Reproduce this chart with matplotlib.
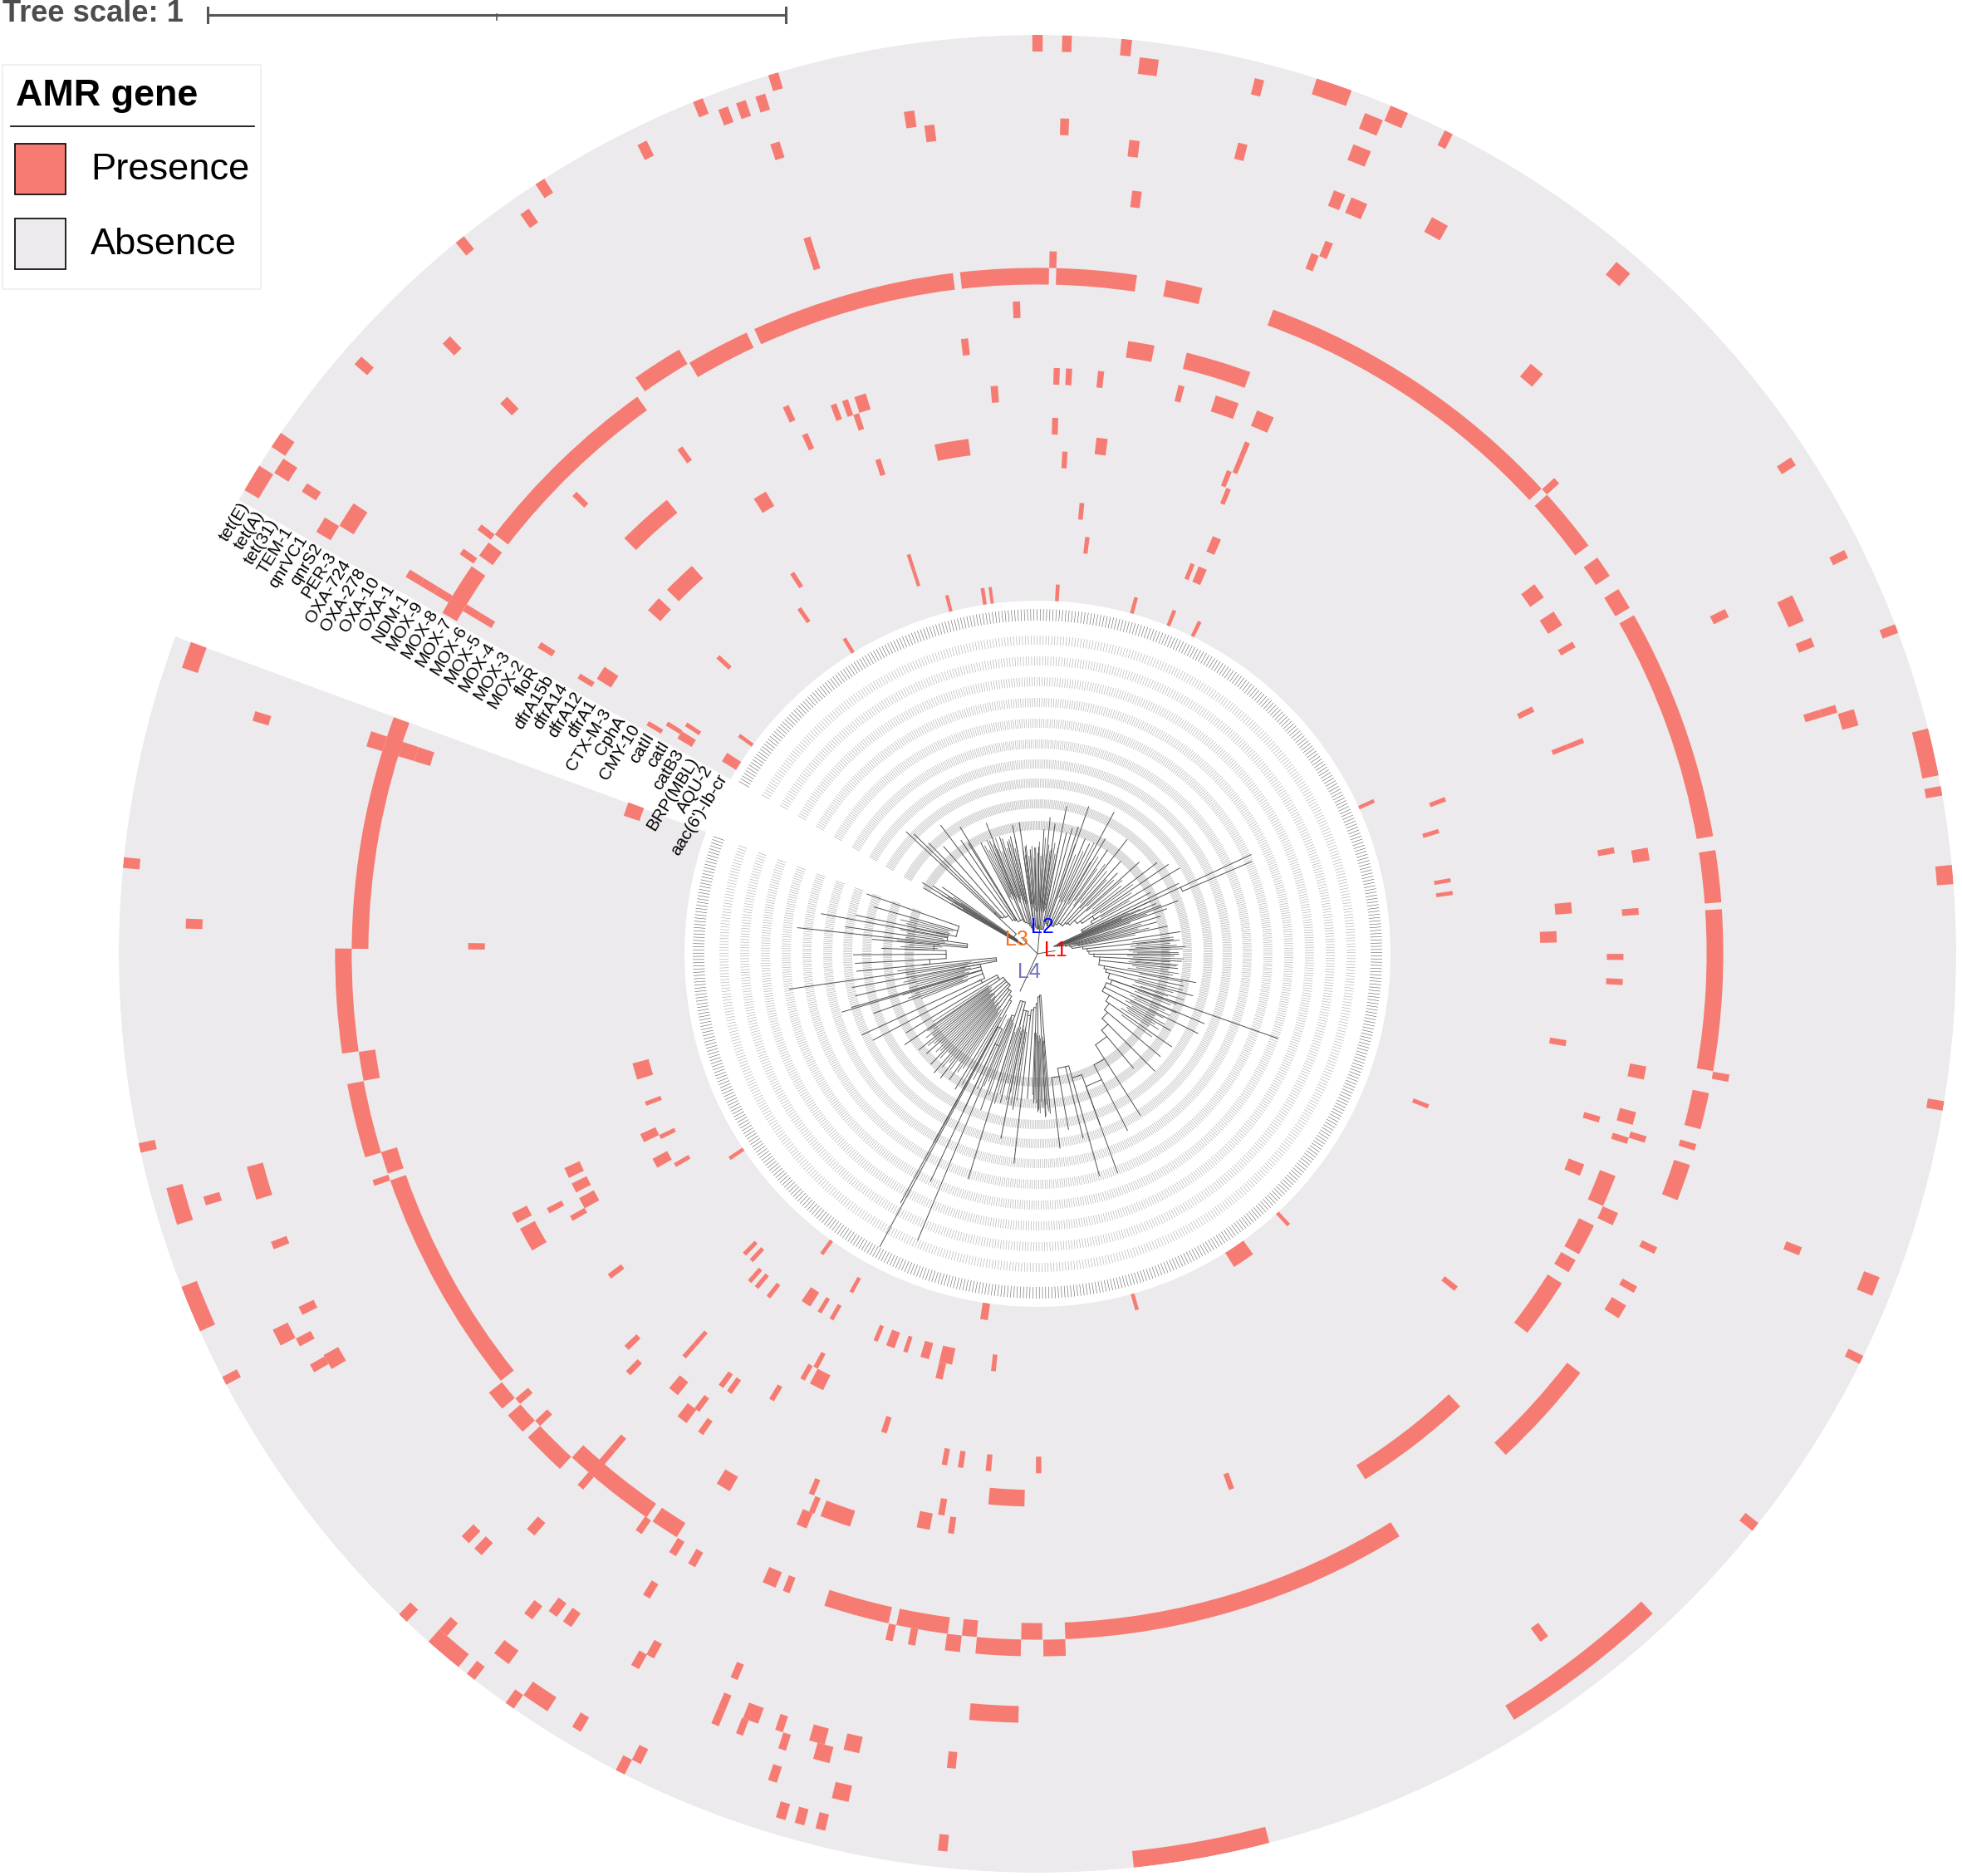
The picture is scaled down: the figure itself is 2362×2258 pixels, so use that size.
# -*- coding: utf-8 -*-
import matplotlib
matplotlib.use("Agg")
import matplotlib.pyplot as plt
import numpy as np
from matplotlib.patches import Rectangle

plt.rcParams["font.family"] = ["Liberation Sans", "DejaVu Sans"]

# global constants
W, H = 2362, 2258
CX, CY = 1249, 1148
R_OUT, R_IN = 1106, 425
PRESENCE_COLOR = "#F67C73"
ABSENCE_COLOR = "#ECEAEC"
GAP_LOW, GAP_HIGH = 150.4, 159.8  # label wedge, degrees

GENES = ["tet(E)", "tet(A)", "tet(31)", "TEM-1", "qnrVC1", "qnrS2", "PER-3",
         "OXA-724", "OXA-278", "OXA-10", "OXA-1", "NDM-1", "MOX-9", "MOX-8",
         "MOX-7", "MOX-6", "MOX-5", "MOX-4", "MOX-3", "MOX-2", "floR",
         "dfrA15b", "dfrA14", "dfrA12", "dfrA1", "CTX-M-3", "CphA", "CMY-10",
         "catII", "catI", "catB3", "BRP(MBL)", "AQU-2", "aac(6')-Ib-cr"]

# presence blocks per gene: (centre angle, angular width), degrees
tet_E = [(90.0, .65), (88.15, .6), (84.42, .67), (71.15, 2.3), (106.72, .65), (111.7, .65),
         (122.8, .65), (128.97, .65), (145.98, 1.05), (148.8, 1.78), (66.8, 1.17), (63.4, .55),
         (20.73, .57), (12.7, 3.0), (10.22, .6), (4.95, 1.2), (-9.53, .6), (-26.23, .55),
         (-38.6, .62), (-79.68, 8.6), (174.3, .67), (192.2, .6), (202.76, 3.0), (207.7, .55),
         (226.3, .67), (229.7, 2.45), (231.9, .62), (234.93, .62), (242.98, .62)]
tet_A = [(82.88, 1.22), (75.75, .61), (107.9, .65), (109.2, .65), (110.4, .65), (116, .65),
         (124.65, .65), (138.88, .65), (147.25, 1.07), (160.65, 1.73), (68.1, 1.22), (49.5, 1.15),
         (33.08, .6), (26.3, .56), (-21.64, 1.27), (-52.55, 11.1), (196.27, 2.42), (228.8, .63),
         (236.18, 1.83), (239.26, .63), (243.6, .63), (253.46, .63), (254.7, .63), (256.07, .63),
         (263.96, .61)]
tet_31 = [(232.74, 1.17)]
TEM_1 = [(147.54, .65), (68.05, 1.24), (196.53, .6), (252.24, .61), (256.87, 1.13)]
qnrVC1 = [(98.67, .7), (107.95, .65), (133.93, .7), (177.97, .67), (16.11, 1.13), (-53.5, .64),
          (206.77, 1.18)]
qnrS2 = [(97.44, .69), (88.13, .6), (75.77, .66), (149.1, 1.15), (61.2, 1.24), (24.44, 1.92),
         (21.9, .66), (17.05, .55), (207.72, .6), (209.75, .6), (232.45, .7), (247.3, .55),
         (249.1, .5), (252.2, .55), (255, 1.15)]
PER_3 = [(83.19, .73), (68.35, .84), (147.56, 1.85), (163.12, .7), (196.28, 2.39), (200.87, .56),
         (66.85, 1.2), (17.05, .55), (-21.3, .6), (205.85, .62), (209.9, 1.12), (225.67, .7),
         (226.9, .7), (233.7, .7), (234.94, .7), (240.56, .62), (247.3, .55), (249.49, 1.12),
         (251.6, .56), (254.37, 1.12), (256.86, 1.12), (263.96, .62)]
OXA_724 = [(241.13, .62)]
OXA_278 = [(247.28, .55)]
OXA_10 = [(82.56, .72), (133.96, .72), (67.7, .6), (49.5, 1.2), (26.3, .66), (228.77, .75),
          (266.74, 3.67)]
OXA_1 = [(107.85, .55), (68.34, .6), (238.68, .6)]
NDM_1 = [(107.85, .55), (148.86, .66)]
MOX_9 = [(148.86, .66)]
MOX_8 = [(88.72, .59), (122.8, 4.23), (142.6, .55), (145.06, .55), (148.86, .66), (162.18, 1.29),
         (183.87, 8.6), (193.77, 6.15), (199.04, .5), (42.33, .6), (-10.2, .6), (271.4, 1.83),
         (266.78, 3.7), (263.04, 1.24), (259.67, .6), (257.8, .6), (219.5, 1.7), (221.97, 1.8),
         (225.33, 3.66), (229.4, .6), (235.4, .6), (238.7, .65), (240.5, .65)]
MOX_7 = [(85.04, 6.78), (92.76, 7.45), (105.74, 17.3), (117.8, 5.4), (134, 16.6), (143.83, 1.34),
         (147.9, 4.6), (77.63, 3.09), (56.29, 27.2), (39.27, 5.48), (34.36, 1.84), (31.2, 1.84),
         (19.73, 19.7), (6.5, 4.39), (-3.06, 13.58), (-13.27, 3.09), (-16.39, .55), (-19.49, 3.12),
         (-25.64, .6), (-29.32, .6), (-31.47, 1.24), (-42.3, 9.27), (-72.9, 29.53), (169.7, 19.76),
         (189.45, 2.45), (197.75, 1.88), (208.9, 19.2), (220.72, .6), (223.2, .6), (229.4, .6),
         (231.25, 8.0), (237.06, 2.4), (269.52, 1.77), (264.29, 1.24), (260.3, 4.36),
         (254.67, 5.55), (248.5, .6), (246.96, 1.17)]
MOX_6 = [(148.86, .66), (162.18, 1.29), (229.4, .6)]
MOX_5 = [(91.85, .64), (135.2, .53), (148.86, .66), (162.18, 1.29), (229.4, .6)]
MOX_4 = [(-16.98, .6), (-24.66, 1.2)]
MOX_3 = [(125.27, .56), (96.77, .67), (80.34, 2.46), (72.97, 6.15), (35.88, 1.49), (32.8, 1.49),
         (29.96, .6), (9.27, 1.19), (-11.1, 1.23), (-15.43, 1.22), (-17.57, .6), (-22.53, 3.0),
         (-27.52, 3.0), (-30.3, 1.3), (-34.93, 5.58), (-52.5, 11.09), (247.6, 1.0), (239.5, 1.4)]
MOX_2 = [(114.7, .6), (4.03, .65), (250.38, 2.98), (248, .55)]
floR = [(132.04, 5.6), (148.2, .65), (88.11, .6), (86.9, .6), (83.76, .6), (75.77, .6),
        (71.1, 2.36), (67.1, 1.77), (110.38, .6), (109.18, .6), (107.63, 1.18), (21.34, .5),
        (10.17, .6), (-0.31, .6), (-2.76, .6), (-16.43, .6), (-21.66, 1.18), (206.8, 1.1),
        (209.2, 2.44), (225.69, .6), (232.65, 1.1), (234.9, .6), (247.3, .55), (258.75, 1.3),
        (261.5, .6)]
dfrA15b = [(179.24, .65), (94.36, .73), (108.58, .6), (114.13, .6), (21.34, .5), (223.79, .6),
           (230.25, 1.13), (233.25, .6), (260.27, .65), (-70.07, .55)]
dfrA14 = [(207.7, .6), (67.67, .55), (26.27, .6), (266.77, 3.75)]
dfrA12 = [(148.8, .6), (121.2, 1.5), (88.1, .65), (67.67, .55), (209.58, .6), (4.92, 1.2),
          (-9.6, .65), (-38.66, .6), (217, .6), (234.9, .6), (233.8, .6), (228.76, .5)]
dfrA1 = [(133.6, 3.8), (137.7, 1.78), (147.25, 1.56), (204.96, 1.2), (206.8, 1.1), (208.7, 1.3),
         (107.9, .6), (99.54, 3.78), (82.85, 1.25), (68.32, .55), (1.87, 1.25), (270.13, .6),
         (264.57, .6), (261.48, .6), (259.67, .6), (239.2, .6), (228.76, .5)]
CTX_M_3 = [(86.87, .6), (67.65, .55), (252.21, .65)]
CphA = [(241.1, .6), (242.96, 1.75)]
CMY_10 = [(241.8, .6)]
catII = [(149.4, .6), (122.8, .6), (66.66, 1.13), (84.36, .6)]
catI = [(160.62, 1.86), (148.14, .6), (137.1, .6), (205, 1.17), (208.7, 1.33), (20.75, .6),
        (256.95, .95), (228.7, .6), (229.9, .6), (231.9, .6)]
catB3 = [(196.3, 2.3), (200.94, .6), (205.9, .6), (210.24, .6), (146.86, .6), (148.54, 1.16),
         (124.6, .6), (107.9, .5), (83.17, .6), (68.3, .6), (66.8, 1.2), (17, .6), (10.11, .55),
         (8.34, .55), (-21.33, .6), (263.97, .65), (236.5, 1.4), (238.7, .6), (240.6, .6),
         (247.3, .6), (249.46, 1.2), (251.64, .6), (254.4, 1.2), (257.35, 1.8), (225.7, .6),
         (227, .6)]
BRP_MBL = [(107.9, .5)]
AQU_2 = [(241.18, .6)]
aac6 = [(143.8, .6), (147.85, 1.54), (121.5, .6), (104.2, .55), (98.56, .6), (97.36, .5),
        (86.85, .6), (74.52, .6), (68.25, .6), (63.96, .6), (24.44, .6), (261.68, 1.2),
        (-74.38, .6), (-56.1, 3.55), (-47.2, .6), (234.3, .6), (213.6, .6)]

PRESENCE = [tet_E, tet_A, tet_31, TEM_1, qnrVC1, qnrS2, PER_3, OXA_724, OXA_278, OXA_10, OXA_1,
            NDM_1, MOX_9, MOX_8, MOX_7, MOX_6, MOX_5, MOX_4, MOX_3, MOX_2, floR, dfrA15b, dfrA14,
            dfrA12, dfrA1, CTX_M_3, CphA, CMY_10, catII, catI, catB3, BRP_MBL, AQU_2, aac6]

# ghost tip-label tick rings: inner radius, outer radius, colour
TICK_R0 = [401, 372, 347, 322, 297, 272, 247, 223, 200, 175, 149]
TICK_R1 = [415, 383, 358, 333, 308, 283, 258, 234, 211, 186, 160]
TICK_COLORS = ["#5c5c5c"] + ["#a6a6a6"] * 10

# tree branches, one list each per clade: angle, tip radius, start radius
L1_angle = [25, 23, 21.5, 20.7, 19.2, 17, 14.9, 12, 8.8, 6, 2.8, 0, -3, -6, -10.3, -12.5, -15.1,
            -19.4, -22.7, -26.4, -30, -34.7, -39.9, -45, -50, -57.5, -63, -69.9, -74.4, -76.1,
            -80, -83.4]
L1_tip = [150, 155, 160, 181, 165, 155, 149, 160, 174, 165, 178, 170, 174, 170, 194, 180, 194,
          307, 218, 216, 185, 197, 193, 200, 180, 231, 239, 281, 278, 229, 215, 236]
L1_base = [22, 25, 25, 28, 30, 35, 40, 42, 55, 60, 62, 68, 75, 75, 82, 85, 90, 190, 95, 90, 100,
           105, 110, 120, 130, 150, 170, 220, 155, 140, 150, 212]
L2_angle = [96.6, 94, 91.5, 89.3, 87, 84.7, 82.3, 78.8, 76.5, 74.5, 72.2, 70.8, 67.5, 64.7, 61.6,
            59.5, 56, 51.9, 48, 45.3, 42, 37.3, 34.3, 31.1, 28.5, 26.5, 24.9, 23.3]
L2_tip = [130, 126, 128, 129, 150, 165, 158, 181, 150, 157, 161, 188, 150, 147, 194, 161, 151,
          175, 150, 137, 165, 181, 191, 200, 155, 190, 284, 281]
L2_base = [40, 35, 32, 30, 35, 32, 30, 30, 45, 40, 38, 36, 42, 40, 38, 42, 45, 45, 50, 52, 60,
           65, 80, 85, 75, 60, 190, 200]
L3_angle = [148.3, 150, 147, 145, 137.1, 135.9, 134.5, 131.2, 127, 124, 122, 121.4, 117, 113,
            111.4, 108, 105, 103, 101, 97.9]
L3_tip = [163, 158, 150, 140, 216, 207, 187, 172, 194, 165, 157, 179, 150, 148, 169, 148, 140,
          145, 158, 160]
L3_base = [25, 22, 30, 35, 70, 72, 62, 60, 58, 50, 48, 50, 45, 45, 42, 40, 38, 35, 32, 30]
L4_angle = [274.6, 272.8, 270, 268.5, 266, 263.6, 261, 258.8, 256, 252.9, 250, 247.3, 244.8,
            241.7, 241.2, 238.7, 235, 232, 229, 226, 222, 219, 214.4, 211, 207.7, 204.8, 200,
            196.6, 196.1, 193, 190.3, 188.1, 185.5, 183, 180.3, 178, 175, 173.8, 172, 169.5,
            168, 164, 160.7]
L4_tip = [193, 197, 190, 180, 175, 254, 190, 227, 185, 284, 200, 374, 303, 401, 342, 191, 185,
          190, 190, 185, 180, 184, 194, 185, 224, 233, 210, 246, 233, 225, 227, 302, 219, 220,
          222, 188, 200, 291, 234, 265, 224, 205, 218]
L4_base = [50, 52, 60, 65, 68, 80, 75, 70, 90, 60, 80, 120, 210, 100, 260, 65, 60, 55, 55, 50,
           50, 50, 55, 55, 75, 80, 70, 100, 100, 70, 95, 50, 140, 130, 110, 150, 125, 85, 120,
           110, 125, 100, 130]
STEM_ANGLE = [10, 85, 135, 245]
STEM_R = [22, 30, 25, 50]

# the dense bundles of short branches in the tree
DENSE_ANGLE = [98, 97, 96, 95, 94, 93, 92, 91, 90, 89, 88, 87, 86, 85, 84, 83, 82, 81, 80, 79,
               71, 69, 66, 63, 60, 58, 55, 53, 50, 47, 44, 41, 39, 36, 33, 30,
               116, 115, 114, 113, 112, 111, 110, 109, 108, 107, 106, 105, 104, 103, 102, 101,
               150, 149.5, 149, 148.5, 148, 147.5, 146.5, 146,
               24, 23.5, 22.5, 22, 20, 18.5, 16, 14, 13, 11,
               7, 5.5, 4.5, 3.5, 2, 1, 0.5, -1, -2, -3.5, -4.5, -5, -7, -8, -9, -11,
               -14, -16, -17.5, -18, -20, -21, -23, -24, -25, -27, -28, -29, -31, -32, -33, -36,
               246, 243, 240, 237, 236, 234, 233, 231, 230, 228, 227, 225, 224, 223, 221, 220,
               218, 217, 216, 215, 213,
               262, 261, 260, 259, 258, 257, 255, 254, 253, 251, 249, 248,
               274, 273.5, 273, 272, 271.5, 271, 270.5, 269.5, 269, 268,
               201, 199, 198, 197, 195, 194, 192, 191, 189, 187,
               177, 176, 174.5, 173, 171, 170, 168.5, 167, 166, 165]
DENSE_TIP = [128, 120, 132, 118, 125, 130, 115, 128, 122, 135, 118, 126, 140, 120, 132, 125,
             128, 135, 122, 130,
             140, 128, 135, 150, 128, 138, 125, 135, 130, 122, 128, 135, 130, 142, 135, 128,
             145, 138, 150, 132, 142, 135, 148, 130, 140, 145, 132, 138, 142, 135, 130, 140,
             112, 120, 105, 135, 118, 128, 110, 122,
             120, 135, 110, 128, 140, 118, 130, 125, 138, 120,
             165, 172, 160, 168, 175, 158, 170, 165, 176, 160, 170, 168, 158, 172, 165, 178,
             180, 170, 185, 165, 178, 172, 182, 168, 176, 170, 160, 175, 165, 172, 160, 170,
             178, 170, 182, 165, 172, 160, 175, 168, 178, 160, 172, 165, 170, 158, 165, 172,
             160, 168, 155, 162, 150,
             178, 165, 185, 170, 180, 160, 175, 188, 168, 180, 165, 172,
             190, 182, 195, 185, 178, 192, 188, 180, 175, 170,
             150, 165, 155, 170, 160, 150, 165, 155, 160, 170,
             165, 155, 170, 160, 158, 168, 152, 162, 170, 158]
DENSE_BASE = [62, 60, 58, 55, 60, 52, 58, 50, 55, 52, 58, 50, 55, 48, 52, 55, 50, 52, 55, 50,
              70, 72, 68, 70, 75, 70, 78, 72, 80, 75, 82, 78, 85, 82, 90, 88,
              75, 72, 78, 70, 75, 68, 72, 65, 70, 68, 72, 62, 65, 60, 62, 58,
              25, 24, 26, 25, 28, 26, 30, 28,
              28, 30, 32, 30, 35, 38, 42, 45, 48, 50,
              115, 120, 112, 118, 110, 115, 120, 108, 115, 112, 118, 110, 115, 120, 110, 125,
              125, 122, 130, 120, 128, 125, 130, 122, 128, 125, 120, 130, 125, 128, 120, 125,
              85, 82, 88, 80, 85, 78, 82, 75, 80, 78, 75, 72, 78, 70, 72, 75, 70, 72, 68, 72, 70,
              95, 90, 92, 88, 95, 90, 92, 98, 90, 88, 85, 82,
              105, 100, 108, 102, 98, 105, 100, 98, 95, 95,
              90, 95, 88, 92, 85, 90, 82, 88, 85, 80,
              120, 115, 118, 112, 115, 110, 112, 108, 110, 105]

CLADE_LABELS = ["L1", "L2", "L3", "L4"]
CLADE_COLORS = ["#ff0000", "#0000ff", "#ff6a13", "#7373bd"]
CLADE_LABEL_ANGLE = [10.7, 79.6, 145, 244]
CLADE_LABEL_R = [22, 33, 30, 24]


def draw_clade(ax, angle, tip, base):
    """Draw the branches of one clade with stair connectors."""
    theta = np.radians(angle)
    ax.vlines(theta, base, tip, color="#4f4f4f", lw=0.7, zorder=5)
    for i in range(len(angle) - 1):
        r = min(base[i], base[i + 1])
        ax.plot(theta[i:i + 2], [r, r], color="#4f4f4f", lw=0.7, zorder=5)
        if base[i] != base[i + 1]:
            j = i if base[i] > base[i + 1] else i + 1
            ax.vlines(theta[j], r, base[j], color="#4f4f4f", lw=0.7, zorder=5)


fig = plt.figure(figsize=(W / 100, H / 100), dpi=100, facecolor="white")

ax = fig.add_axes([(CX - R_OUT) / W, 1 - (CY + R_OUT) / H, 2 * R_OUT / W, 2 * R_OUT / H],
                  projection="polar")
ring_w = (R_OUT - R_IN) / len(GENES)

# absence background, leaves the label wedge open
span = 360 - (GAP_HIGH - GAP_LOW)
ax.bar(np.radians(GAP_HIGH + span / 2), R_OUT - R_IN, np.radians(span), bottom=R_IN,
       color=ABSENCE_COLOR, linewidth=0, zorder=1)

# presence blocks
for i, blocks in enumerate(PRESENCE):
    centres = np.radians([b[0] for b in blocks])
    widths = np.radians([b[1] for b in blocks])
    ax.bar(centres, ring_w, widths, bottom=R_OUT - (i + 1) * ring_w,
           color=PRESENCE_COLOR, linewidth=0, zorder=2)

# gene names, right end on the upper wedge edge
for i, gene in enumerate(GENES):
    ax.text(np.radians(GAP_LOW), R_OUT - (i + 0.5) * ring_w, gene, rotation=58,
            rotation_mode="anchor", ha="right", va="center", fontsize=15, color="black",
            zorder=6)

# ghost label rings
tick_angles = np.radians(np.arange(GAP_HIGH + 0.3, GAP_LOW + 360, 0.535))
for r0, r1, col in zip(TICK_R0, TICK_R1, TICK_COLORS):
    ax.vlines(tick_angles, r0, r1, color=col, lw=0.4, zorder=3)

# tree
ax.vlines(np.radians(DENSE_ANGLE), DENSE_BASE, DENSE_TIP, color="#5f5f5f", lw=0.6, zorder=4)
draw_clade(ax, L1_angle, L1_tip, L1_base)
draw_clade(ax, L2_angle, L2_tip, L2_base)
draw_clade(ax, L3_angle, L3_tip, L3_base)
draw_clade(ax, L4_angle, L4_tip, L4_base)
ax.vlines(np.radians(STEM_ANGLE), 0, STEM_R, color="#4f4f4f", lw=0.7, zorder=5)

for name, col, a, r in zip(CLADE_LABELS, CLADE_COLORS, CLADE_LABEL_ANGLE, CLADE_LABEL_R):
    ax.text(np.radians(a), r, name, color=col, fontsize=18, ha="center", va="center", zorder=7)

ax.set_ylim(0, R_OUT)
ax.set_xticks([])
ax.set_yticks([])
ax.axis("off")

# scale bar and legend are placed in picture pixels
over = fig.add_axes([0, 0, 1, 1])
over.set_xlim(0, W)
over.set_ylim(H, 0)
over.axis("off")

over.text(3, 17, "Tree scale: 1", fontsize=26.2, fontweight="bold", color="#4d4d4d",
          ha="left", va="center")
over.plot([250, 946], [17.5, 17.5], color="#555555", lw=2.2)
over.plot([250, 250], [9, 27], color="#555555", lw=2.2)
over.plot([946, 946], [9, 27], color="#555555", lw=2.2)
over.plot([598, 598], [17, 24], color="#555555", lw=1.2)

over.add_patch(Rectangle((3, 78), 311, 270, facecolor="white", edgecolor="#eeeeee", lw=1.2))
over.text(19, 127, "AMR gene", fontsize=32.3, fontweight="bold", color="black", ha="left",
          va="baseline")
over.plot([13, 306], [152, 152], color="black", lw=1.2)
over.add_patch(Rectangle((18, 173), 61, 61, facecolor=PRESENCE_COLOR, edgecolor="black", lw=1.2))
over.add_patch(Rectangle((18, 263), 61, 61, facecolor=ABSENCE_COLOR, edgecolor="black", lw=1.2))
over.text(109, 205, "Presence", fontsize=32.6, color="black", ha="left", va="center")
over.text(109, 295, "Absence", fontsize=32.6, color="black", ha="left", va="center")

fig.savefig("out.png", dpi=100)
